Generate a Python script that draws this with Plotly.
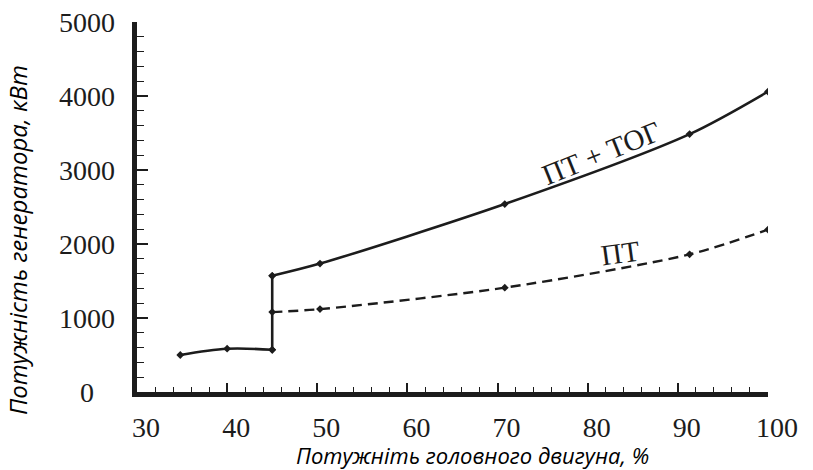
import plotly.graph_objects as go

# Main engine load, % (x) and generator power, kW (y)
load_low = [34.8, 40.0, 45.0]
power_low = [500, 585, 570]

load_high = [45.0, 50.3, 70.8, 91.3, 100.0]
power_pt_tog = [1570, 1735, 2540, 3485, 4060]
power_pt = [1080, 1120, 1410, 1860, 2195]

x_ticks = [30, 40, 50, 60, 70, 80, 90, 100]
y_ticks = [0, 1000, 2000, 3000, 4000, 5000]

INK = "#1c1c1c"
SERIF = "Times New Roman, Tinos, DejaVu Serif, serif"
SANS = "Open Sans"

fig = go.Figure()

marker = dict(symbol="diamond", size=6, color=INK)

# low-load branch
fig.add_trace(go.Scatter(
    x=load_low, y=power_low, mode="lines+markers",
    line=dict(color=INK, width=2.6, shape="spline", smoothing=1.0),
    marker=marker, showlegend=False, hoverinfo="x+y"))

# step up at the switching point
fig.add_trace(go.Scatter(
    x=[load_low[-1], load_high[0]], y=[power_low[-1], power_pt_tog[0]],
    mode="lines+markers", line=dict(color=INK, width=2.6),
    marker=marker, showlegend=False, hoverinfo="x+y"))

# ПТ + ТОГ
fig.add_trace(go.Scatter(
    x=load_high, y=power_pt_tog, mode="lines+markers", name="ПТ + ТОГ",
    line=dict(color=INK, width=2.6, shape="spline", smoothing=0.8),
    marker=marker, showlegend=False))

# ПТ
fig.add_trace(go.Scatter(
    x=load_high, y=power_pt, mode="lines+markers", name="ПТ",
    line=dict(color=INK, width=2.4, shape="spline", smoothing=0.8, dash="10px,6px"),
    marker=marker, showlegend=False))

annotations = []
# centred y tick labels
for v in y_ticks:
    annotations.append(dict(
        x=-0.079, xref="paper", y=v, yref="y", text=str(v), showarrow=False,
        xanchor="center", yanchor="middle",
        font=dict(family=SERIF, size=28, color=INK)))

# curve labels
annotations.append(dict(
    x=81.5, y=3230, xref="x", yref="y", text="ПТ + ТОГ", showarrow=False,
    textangle=-22, font=dict(family=SERIF, size=29, color=INK)))
annotations.append(dict(
    x=83.6, y=1880, xref="x", yref="y", text="ПТ", showarrow=False,
    textangle=-8, font=dict(family=SERIF, size=29, color=INK)))

# axis titles
annotations.append(dict(
    x=(472 - 137) / 631, y=-0.17, xref="paper", yref="paper",
    text="<i>Потужніть головного двигуна, %</i>", showarrow=False,
    xanchor="center", yanchor="middle",
    font=dict(family=SANS, size=22, color="#000000")))
annotations.append(dict(
    x=-0.19, y=(392 - 240) / 370, xref="paper", yref="paper",
    text="<i>Потужність генератора, кВт</i>", showarrow=False,
    textangle=-90, xanchor="center", yanchor="middle",
    font=dict(family=SANS, size=24, color="#000000")))

fig.update_layout(
    width=813, height=470,
    margin=dict(l=137, r=45, t=22, b=78),
    paper_bgcolor="white", plot_bgcolor="white",
    annotations=annotations,
    xaxis=dict(
        range=[30, 100], tickvals=x_ticks, ticktext=[str(v) for v in x_ticks],
        showgrid=False, zeroline=False,
        showline=True, linecolor=INK, linewidth=5,
        ticks="inside", ticklen=9, tickwidth=1.5, tickcolor=INK,
        minor=dict(dtick=2, ticks="inside", ticklen=5, tickwidth=1.3, tickcolor=INK),
        tickfont=dict(family=SERIF, size=28, color=INK),
        ticklabelshift=9, ticklabelstandoff=6),
    yaxis=dict(
        range=[0, 5000], tickvals=y_ticks, showticklabels=False,
        showgrid=False, zeroline=False,
        showline=True, linecolor=INK, linewidth=5,
        ticks="inside", ticklen=11, tickwidth=1.5, tickcolor=INK,
        minor=dict(dtick=200, ticks="inside", ticklen=7, tickwidth=1.3, tickcolor=INK)),
)

fig.write_html("out.html")
